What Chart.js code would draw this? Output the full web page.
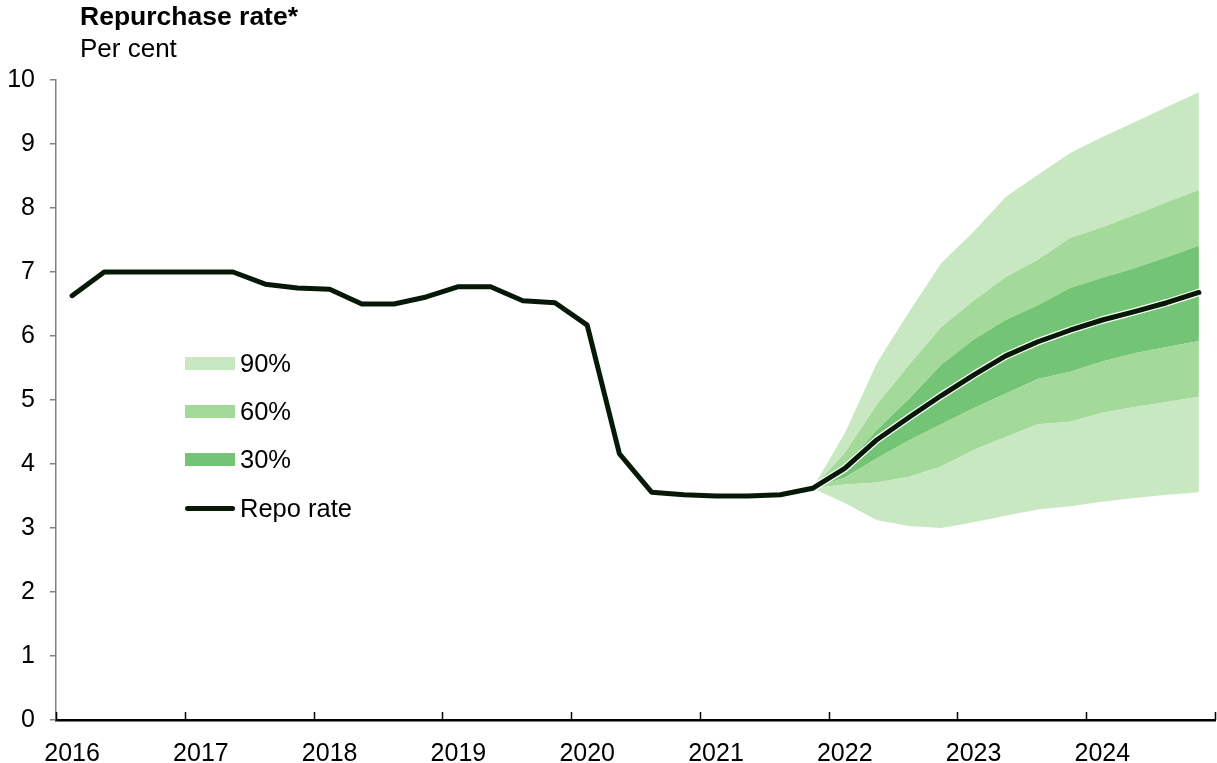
<!DOCTYPE html>
<html>
<head>
<meta charset="utf-8">
<title>Repurchase rate</title>
<script src="https://cdn.jsdelivr.net/npm/chart.js@4.4.1/dist/chart.umd.min.js"></script>
<style>
    body { margin: 0; background: #ffffff; font-family: "Liberation Sans", Arial, sans-serif; color: #000; }
    #wrap { position: relative; width: 1217px; height: 763px; }
    #chart { position: absolute; left: 0; top: 0; }
    #title { position: absolute; left: 80px; top: 1px; font-size: 26.5px; font-weight: bold; }
    #unit { position: absolute; left: 80px; top: 33px; font-size: 26px; }
    .leg { position: absolute; left: 185px; height: 30px; display: flex; align-items: center; font-size: 25.5px; }
    .sw { width: 50px; height: 13px; margin-right: 5px; }
    .ln { width: 50px; height: 5px; border-radius: 3px; background: #061806; margin-right: 5px; }
</style>
</head>
<body>
<div id="wrap">
    <canvas id="chart"></canvas>
    <div id="title">Repurchase rate*</div>
    <div id="unit">Per cent</div>
    <div class="leg" style="top:348px"><div class="sw" style="background:#c8e8c1"></div>90%</div>
    <div class="leg" style="top:396px"><div class="sw" style="background:#a3d999"></div>60%</div>
    <div class="leg" style="top:444px"><div class="sw" style="background:#73c475"></div>30%</div>
    <div class="leg" style="top:493px"><div class="ln"></div>Repo rate</div>
</div>
<script>
// Year labels, placed at the first quarter of each year
const years = ['2016', '2017', '2018', '2019', '2020', '2021', '2022', '2023', '2024'];
const yTicks = [0, 1, 2, 3, 4, 5, 6, 7, 8, 9, 10];

// Quarterly repo rate, 2016 Q1 - 2021 Q4
const repoHistory = [6.63, 7.0, 7.0, 7.0, 7.0, 7.0, 6.81, 6.75, 6.73, 6.5, 6.5, 6.61,
    6.77, 6.77, 6.55, 6.52, 6.17, 4.16, 3.56, 3.52, 3.5, 3.5, 3.52, 3.62];

// Forecast, 2021 Q4 - 2024 Q4
const repoForecast = [3.62, 3.93, 4.38, 4.73, 5.07, 5.39, 5.69, 5.91, 6.09, 6.25, 6.38, 6.52, 6.68];
const band90High = [3.62, 4.48, 5.58, 6.38, 7.14, 7.63, 8.17, 8.52, 8.86, 9.11, 9.34, 9.58, 9.81];
const band60High = [3.62, 4.17, 4.93, 5.55, 6.14, 6.55, 6.92, 7.19, 7.53, 7.70, 7.89, 8.09, 8.28];
const band30High = [3.62, 3.96, 4.53, 5.02, 5.55, 5.94, 6.25, 6.48, 6.75, 6.91, 7.06, 7.23, 7.41];
const band30Low = [3.62, 3.79, 4.09, 4.37, 4.62, 4.87, 5.10, 5.33, 5.44, 5.60, 5.73, 5.83, 5.92];
const band60Low = [3.62, 3.68, 3.71, 3.80, 3.96, 4.22, 4.42, 4.62, 4.66, 4.80, 4.89, 4.97, 5.05];
const band90Low = [3.62, 3.39, 3.12, 3.03, 3.00, 3.09, 3.19, 3.29, 3.34, 3.41, 3.47, 3.52, 3.56];

const forecastStart = repoHistory.length - 1;   // 2021 Q4
const totalQuarters = years.length * 4;

const c90 = '#c8e8c1';
const c60 = '#a3d999';
const c30 = '#73c475';
const lineColor = '#061806';

function toPoints(values, start) {
    return values.map((v, i) => ({ x: start + i, y: v }));
}

const repoAll = toPoints(repoHistory.concat(repoForecast.slice(1)), 0);

function band(values, color, fill) {
    return {
        data: toPoints(values, forecastStart),
        borderWidth: 0,
        borderColor: 'rgba(0,0,0,0)',
        backgroundColor: color,
        fill: fill,
        pointRadius: 0,
        tension: 0,
        order: 2
    };
}

// Year boundary tick marks pointing into the plot
const yearTicks = {
    id: 'yearTicks',
    afterDatasetsDraw(chart) {
        const xs = chart.scales.x;
        const bottom = chart.chartArea.bottom;
        const ctx = chart.ctx;
        ctx.save();
        ctx.strokeStyle = '#000';
        ctx.lineWidth = 1.5;
        for (let k = 0; k <= years.length; k++) {
            const px = Math.round(xs.getPixelForValue(k * 4 - 0.5)) + 0.5;
            ctx.beginPath();
            ctx.moveTo(px, bottom);
            ctx.lineTo(px, bottom - 8);
            ctx.stroke();
        }
        ctx.restore();
    }
};

const canvas = document.getElementById('chart');
canvas.width = 1217;
canvas.height = 763;

new Chart(canvas.getContext('2d'), {
    type: 'line',
    data: {
        datasets: [
            band(band90Low, 'rgba(0,0,0,0)', false),
            band(band60Low, c90, '-1'),
            band(band30Low, c60, '-1'),
            band(band30High, c30, '-1'),
            band(band60High, c60, '-1'),
            band(band90High, c90, '-1'),
            {
                data: toPoints(repoForecast, forecastStart),
                borderColor: '#ffffff',
                borderWidth: 7.5,
                borderCapStyle: 'round',
                borderJoinStyle: 'round',
                pointRadius: 0,
                fill: false,
                tension: 0,
                order: 1
            },
            {
                data: repoAll,
                borderColor: lineColor,
                borderWidth: 5,
                borderCapStyle: 'round',
                borderJoinStyle: 'round',
                pointRadius: 0,
                fill: false,
                tension: 0,
                order: 0
            }
        ]
    },
    options: {
        responsive: false,
        animation: false,
        layout: { padding: { top: 80, right: 2, left: 0, bottom: 0 } },
        plugins: {
            legend: { display: false },
            tooltip: { enabled: false }
        },
        scales: {
            x: {
                type: 'linear',
                min: -0.5,
                max: totalQuarters - 0.5,
                afterBuildTicks: function(scale) {
                    scale.ticks = years.map((y, i) => ({ value: i * 4 }));
                },
                afterFit: function(scale) { scale.height = 43; },
                ticks: {
                    autoSkip: false,
                    maxRotation: 0,
                    padding: 11,
                    color: '#000',
                    font: { family: 'Liberation Sans', size: 25 },
                    callback: function(value) { return years[Math.round(value / 4)]; }
                },
                grid: { display: false },
                border: { color: '#000', width: 2.5 }
            },
            y: {
                min: 0,
                max: 10,
                afterBuildTicks: function(scale) {
                    scale.ticks = yTicks.map(v => ({ value: v }));
                },
                afterFit: function(scale) { scale.width = 56; },
                ticks: {
                    padding: 15,
                    color: '#000',
                    font: { family: 'Liberation Sans', size: 25 }
                },
                grid: {
                    drawOnChartArea: false,
                    drawTicks: true,
                    tickLength: 6,
                    color: '#808080',
                    lineWidth: 1.5
                },
                border: { color: '#808080', width: 1.5 }
            }
        }
    },
    plugins: [yearTicks]
});
</script>
</body>
</html>
